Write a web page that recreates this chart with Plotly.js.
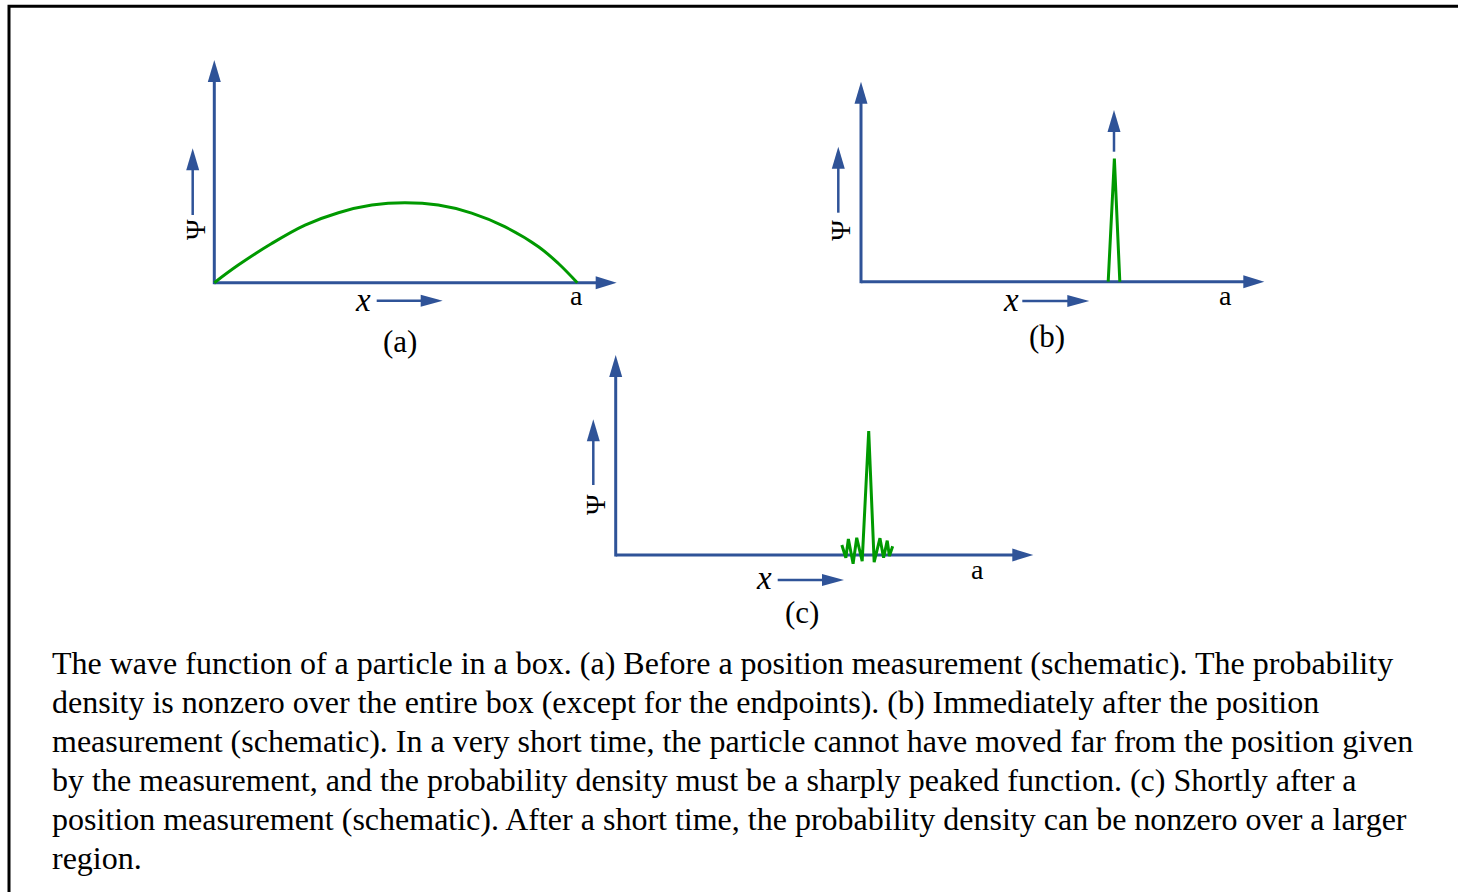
<!DOCTYPE html>
<html><head><meta charset="utf-8">
<script src="https://cdn.plot.ly/plotly-3.0.1.min.js"></script>
<style>html,body{margin:0;padding:0;background:#fff;overflow:hidden}#chart{width:1458px;height:892px}</style>
</head><body><div id="chart"></div>
<script>
// ---------- data (x: box length a = 1, y: arbitrary amplitude) ----------
const waveA_x = [0, 0.066, 0.158, 0.25, 0.342, 0.434, 0.525, 0.617, 0.709, 0.80, 0.893, 0.948, 1.0];
const waveA_y = [0, 0.22, 0.49, 0.72, 0.875, 0.97, 1.0, 0.97, 0.87, 0.70, 0.45, 0.24, 0];
const peakB_x = [0.681, 0.698, 0.713];
const peakB_y = [0, 1.54, 0];
const spreadC_x = [0.623, 0.634, 0.641, 0.654, 0.664, 0.679, 0.697, 0.712, 0.728, 0.738, 0.748, 0.754, 0.763];
const spreadC_y = [0.125, -0.035, 0.20, -0.11, 0.215, -0.078, 1.55, -0.09, 0.21, -0.035, 0.18, -0.0125, 0.11];
const panelTags = ['(a)', '(b)', '(c)'];
const boxEndLabel = 'a';
const xAxisLabel = 'x';
const yAxisLabel = 'Ψ';
const captionLines = [
  'The wave function of a particle in a box. (a) Before a position measurement (schematic). The probability',
  'density is nonzero over the entire box (except for the endpoints). (b) Immediately after the position',
  'measurement (schematic). In a very short time, the particle cannot have moved far from the position given',
  'by the measurement, and the probability density must be a sharply peaked function. (c) Shortly after a',
  'position measurement (schematic). After a short time, the probability density can be nonzero over a larger',
  'region.'
];

// ---------- layout geometry (pixels) ----------
const W = 1458, H = 892, SX = 363, SY = 80;
const FONT = 'Liberation Serif, Times New Roman, serif';
const BLUE = '#2f5398', GREEN = '#009900';
const series = [[waveA_x, waveA_y, 'spline'], [peakB_x, peakB_y, 'linear'], [spreadC_x, spreadC_y, 'linear']];
const panels = [
  {ox: 214.3, oy: 282.7, box: [160, 650, 40, 370], yTip: 222.7, xTip: 402.4,
   psiArrow: {x: -21.6, y0: 67.7, y1: 134.4}, psi: [-19.3, 52.7], xl: [149, -17.3],
   xArrow: {x0: 162.4, x1: 228.4, y: -18}, aLbl: [362.4, -12.3], tag: [185.7, -59]},
  {ox: 861, oy: 281.7, box: [800, 1300, 60, 360], yTip: 200, xTip: 403.3,
   psiArrow: {x: -22.7, y0: 69, y1: 135}, psi: [-20.3, 51.7], xl: [149.7, -18.3],
   xArrow: {x0: 161.3, x1: 228.3, y: -19.3}, aLbl: [364, -14], tag: [185.7, -55],
   peakArrow: {x: 253, y0: 130, y1: 171.7}},
  {ox: 615.7, oy: 555, box: [560, 1060, 340, 630], yTip: 200, xTip: 417.6,
   psiArrow: {x: -22.4, y0: 70, y1: 135.7}, psi: [-20.7, 50], xl: [148.6, -23.3],
   xArrow: {x0: 162, x1: 228.3, y: -25}, aLbl: [361.6, -14], tag: [186, -57.7]}
];
const CAPTION_LEFT = 49.5, CAPTION_BASE = 673.3, CAPTION_STEP = 39, CAPTION_SIZE = 32;

const traces = [], shapes = [], annotations = [];
const layout = {
  width: W, height: H, margin: {l: 0, r: 0, t: 0, b: 0, pad: 0},
  paper_bgcolor: '#ffffff', plot_bgcolor: 'rgba(0,0,0,0)', showlegend: false,
  shapes: shapes, annotations: annotations, hovermode: false
};

function addArrow(xa, ya, x0, y0, x1, y1, lw, headLen, headW) {
  const dx = x1 - x0, dy = y1 - y0, len = Math.hypot(dx, dy);
  const ux = dx / len, uy = dy / len, pxv = -uy, pyv = ux;
  const bx = x1 - ux * headLen, by = y1 - uy * headLen;
  const X = v => v / SX, Y = v => v / SY;
  shapes.push({type: 'line', xref: xa, yref: ya, layer: 'below',
    x0: X(x0), y0: Y(y0), x1: X(bx + ux), y1: Y(by + uy), line: {color: BLUE, width: lw}});
  const c1x = bx + pxv * headW / 2, c1y = by + pyv * headW / 2;
  const c2x = bx - pxv * headW / 2, c2y = by - pyv * headW / 2;
  shapes.push({type: 'path', xref: xa, yref: ya, layer: 'below',
    path: `M${X(x1)},${Y(y1)} L${X(c1x)},${Y(c1y)} L${X(c2x)},${Y(c2y)} Z`,
    fillcolor: BLUE, line: {width: 0}});
}

function addText(xa, ya, pos, text, size, extra) {
  annotations.push(Object.assign({xref: xa, yref: ya, x: pos[0] / SX, y: pos[1] / SY,
    text: text, showarrow: false, xanchor: 'center', yanchor: 'middle',
    font: {family: FONT, size: size, color: '#000'}}, extra || {}));
}

panels.forEach((p, i) => {
  const k = i === 0 ? '' : String(i + 1);
  const xa = 'x' + k, ya = 'y' + k;
  const [L, R, T, B] = p.box;
  layout['xaxis' + k] = {domain: [L / W, R / W], range: [(L - p.ox) / SX, (R - p.ox) / SX],
    visible: false, fixedrange: true, anchor: ya};
  layout['yaxis' + k] = {domain: [1 - B / H, 1 - T / H], range: [(p.oy - B) / SY, (p.oy - T) / SY],
    visible: false, fixedrange: true, anchor: xa};

  const s = series[i];
  traces.push({type: 'scatter', mode: 'lines', x: s[0], y: s[1], xaxis: xa, yaxis: ya,
    line: {color: GREEN, width: 3, shape: s[2], smoothing: 1}, hoverinfo: 'skip'});

  // axes with arrowheads
  addArrow(xa, ya, 0, -1.5, 0, p.yTip, 3, 22, 13);
  addArrow(xa, ya, 0, 0, p.xTip, 0, 3, 21, 13);
  // small direction arrows
  addArrow(xa, ya, p.psiArrow.x, p.psiArrow.y0, p.psiArrow.x, p.psiArrow.y1, 2.5, 22, 13);
  addArrow(xa, ya, p.xArrow.x0, p.xArrow.y, p.xArrow.x1, p.xArrow.y, 2.5, 22, 12);
  if (p.peakArrow) addArrow(xa, ya, p.peakArrow.x, p.peakArrow.y0, p.peakArrow.x, p.peakArrow.y1, 2.5, 22, 13);

  addText(xa, ya, p.psi, yAxisLabel, 28, {textangle: -90});
  addText(xa, ya, p.xl, '<i>' + xAxisLabel + '</i>', 33);
  addText(xa, ya, p.aLbl, boxEndLabel, 28);
  addText(xa, ya, p.tag, panelTags[i], 31);
});

// caption, one annotation per line so the line spacing matches
captionLines.forEach((line, i) => {
  const center = CAPTION_BASE + i * CAPTION_STEP - 0.3375 * CAPTION_SIZE;
  annotations.push({xref: 'paper', yref: 'paper', x: CAPTION_LEFT / W, y: 1 - center / H,
    xanchor: 'left', yanchor: 'middle', align: 'left', showarrow: false, text: line,
    font: {family: FONT, size: CAPTION_SIZE, color: '#000'}});
});

// frame
shapes.push({type: 'rect', xref: 'paper', yref: 'paper', x0: 9 / W, y0: 1 - 6.3 / H, x1: 1.05, y1: -0.05,
  line: {color: '#000', width: 3}, fillcolor: 'rgba(0,0,0,0)'});

Plotly.newPlot('chart', traces, layout, {staticPlot: true, displayModeBar: false});
</script>
</body></html>
